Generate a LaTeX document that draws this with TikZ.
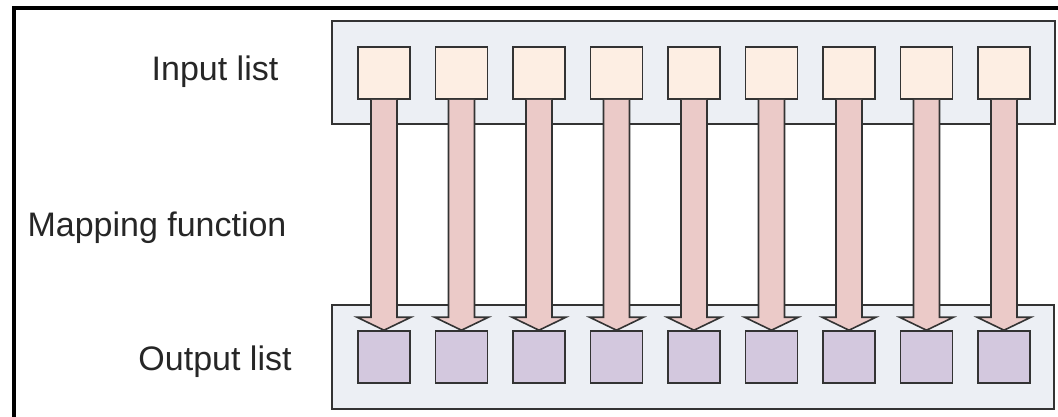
\documentclass[tikz,border=0pt]{standalone}
\usepackage{fontspec}
\setmainfont{Liberation Sans}
\usetikzlibrary{calc}
\definecolor{boxfill}{HTML}{ECEFF4}
\definecolor{infill}{HTML}{FDEEE3}
\definecolor{outfill}{HTML}{D3C8DE}
\definecolor{flowfill}{HTML}{EBCAC8}
\definecolor{edge}{HTML}{333333}
\begin{document}
\begin{tikzpicture}[x=1pt,y=-1pt,
    listbox/.style={draw=edge, line width=1.6pt, fill=boxfill, inner sep=0pt},
    item/.style={draw=edge, line width=1.6pt, minimum size=52pt, inner sep=0pt},
    flow/.style={draw=edge, line width=1.6pt, fill=flowfill, line join=miter},
    lbl/.style={text=black!85, font=\fontsize{34}{40}\selectfont}]
    \useasboundingbox (0,0) rectangle (1058,416);
    \clip (0,0) rectangle (1058,416);
    \draw[line width=4pt] (14,420) -- (14,8) -- (1062,8);
    \node[listbox, minimum width=723pt, minimum height=103pt] (inlist) at (693.5,72.5) {};
    \node[listbox, minimum width=722pt, minimum height=104pt] (outlist) at (693,357) {};
    \node[lbl] (inlabel) at (215,72) {Input list};
    \node[lbl] (maplabel) at (157,228) {Mapping function};
    \node[lbl] (outlabel) at (215,362) {Output list};
    \foreach \i in {1,...,9} {
      \node[item, fill=infill] (in\i) at ({384+77.5*(\i-1)},73) {};
      \node[item, fill=outfill] (out\i) at ({384+77.5*(\i-1)},357) {};
    }
    \foreach \i in {1,...,9} {
      \filldraw[flow] ([xshift=-13pt]in\i.south) -- ([xshift=-13pt,yshift=13pt]out\i.north)
        -- ([xshift=-27pt,yshift=13pt]out\i.north) -- (out\i.north)
        -- ([xshift=27pt,yshift=13pt]out\i.north) -- ([xshift=13pt,yshift=13pt]out\i.north)
        -- ([xshift=13pt]in\i.south);
    }
\end{tikzpicture}
\end{document}
